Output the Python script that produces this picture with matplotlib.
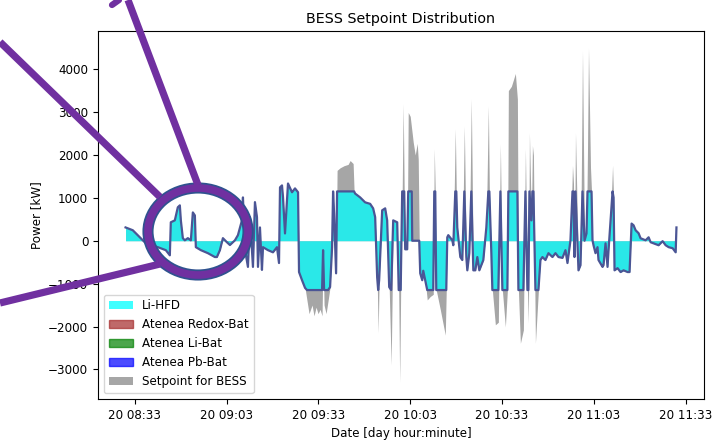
import matplotlib
matplotlib.use("Agg")
import matplotlib.pyplot as plt
import matplotlib.dates as mdates
from matplotlib.patches import Patch, Ellipse
from matplotlib.lines import Line2D
import pandas as pd
import numpy as np

# ---------------- data (minutes after 20 08:30, kW) ----------------
minutes = [0.00, 2.36, 3.99, 4.97, 6.28, 8.25, 10.54, 13.16, 14.47, 14.79,
           16.10, 17.08, 17.74, 18.07, 18.72, 19.37, 20.36, 21.34, 21.99, 22.65,
           22.97, 24.61, 26.90, 29.19, 29.85, 30.83, 31.81, 33.12, 34.10, 35.74,
           36.72, 37.37, 38.03, 38.36, 39.01, 39.99, 40.65, 41.63, 42.28, 42.94,
           43.27, 43.92, 44.57, 44.90, 46.54, 48.17, 49.48, 50.14, 50.47, 51.12,
           51.45, 52.10, 53.08, 54.39, 55.37, 56.36, 56.68, 57.66, 58.65, 59.30,
           59.96, 60.94, 61.59, 62.25, 62.90, 63.56, 64.21, 64.54, 64.87, 65.52,
           66.17, 66.83, 67.48, 67.81, 68.14, 68.79, 69.12, 70.10, 71.41, 72.72,
           73.38, 74.36, 74.68, 75.01, 76.65, 78.28, 79.92, 80.90, 81.56, 82.21,
           82.54, 82.86, 83.85, 84.83, 85.48, 86.14, 86.79, 87.45, 88.76, 89.25,
           89.57, 89.90, 90.39, 90.72, 91.05, 91.37, 92.03, 92.36, 93.01, 93.50,
           93.67, 93.99, 94.65, 95.30, 95.63, 95.96, 96.28, 96.94, 97.27, 97.92,
           98.57, 99.56, 100.54, 100.87, 101.19, 101.52, 102.83, 104.47, 104.79, 105.12,
           105.45, 106.76, 107.09, 107.74, 108.07, 108.39, 109.38, 110.03, 110.69, 111.34,
           111.67, 112.32, 112.97, 113.63, 114.28, 114.94, 115.59, 116.90, 117.88, 118.54,
           118.87, 119.52, 119.85, 120.83, 121.81, 122.47, 123.12, 124.10, 124.76, 125.08,
           126.06, 126.72, 127.37, 128.03, 128.36, 129.01, 129.99, 130.65, 131.30, 131.63,
           131.96, 132.61, 132.94, 133.27, 133.92, 134.90, 135.56, 136.21, 137.19, 138.18,
           139.48, 140.47, 141.45, 142.76, 143.74, 144.39, 145.37, 146.03, 146.36, 146.68,
           147.01, 147.99, 148.65, 149.30, 149.96, 150.61, 150.94, 151.26, 151.92, 152.25,
           152.57, 152.90, 153.55, 154.21, 154.53, 155.85, 156.17, 156.83, 157.48, 157.81,
           158.46, 159.12, 159.45, 159.77, 160.76, 161.74, 162.72, 164.03, 164.68, 165.34,
           165.99, 166.65, 167.63, 168.28, 169.92, 170.90, 171.56, 173.19, 174.17, 175.48,
           176.46, 177.45, 178.76, 179.74, 180.00]

setpoint_bess = [310, 245, 130, 60, -35, -105, -150, -220, -340, 430,
                 475, 780, 825, 475, 60, 10, 60, 10, 660, 590,
                 -150, -220, -290, -380, -380, -220, 60, -35, -100, 10,
                 130, 300, 475, 1010, -200, -610, 550, -610, 900, 550,
                 -610, 310, -680, -150, -220, -270, -150, -520, 1245, 1290,
                 1010, 170, 1335, 1130, 1220, 1130, -730, -920, -1100, -1400,
                 -1700, -1500, -1750, -1550, -1700, -1600, -1750, -220, -1500, -1700,
                 -1400, -1080, -150, 1200, 630, -760, 1640, 1700, 1750, 1780,
                 1870, 1800, 1150, 1100, 1010, 895, 860, 755, 550, -850,
                 -2150, -920, 710, 755, 475, -1080, -2900, 475, 430, -1150,
                 -3300, -1150, 1150, 3200, 1150, -200, -200, 2990, 2900, 2600,
                 2500, 2300, 2000, 2270, 1900, 0, -760, -920, -700, -920,
                 -1380, -1300, -1250, 2150, 1150, -1150, -1600, -2200, -1150, 80,
                 130, 10, -105, 2610, 1150, 310, -380, -450, 2680, -380,
                 -690, -290, 3310, -690, -690, -380, -690, -450, 310, 3150,
                 1150, -290, -1150, -1960, -1900, 2260, -1150, -2010, -1150, 3500,
                 3600, 3750, 3900, 3300, -1150, -2390, -2080, 2150, -1150, -1920,
                 2520, 475, 2220, 1990, -2390, -1150, -450, -380, -450, -290,
                 -380, -290, -380, -400, -220, -520, 10, 1760, 1330, -380,
                 2520, -690, -570, 4430, 0, 170, 2150, 4500, 1700, 1150,
                 10, -105, -290, -150, -450, -610, -570, -60, -610, -220,
                 475, 1760, 1010, -690, -640, -730, -690, -730, -730, 400,
                 360, 245, 175, 58, 10, 80, -35, -80, -105, -10,
                 -105, -150, -175, -270, 310]

li_hfd = [310, 245, 130, 60, -35, -105, -150, -220, -340, 430,
          475, 780, 825, 475, 60, 10, 60, 10, 660, 590,
          -150, -220, -290, -380, -380, -220, 60, -35, -100, 10,
          130, 300, 475, 1010, -200, -610, 550, -610, 900, 550,
          -610, 310, -680, -150, -220, -270, -150, -520, 1245, 1290,
          1010, 170, 1335, 1130, 1220, 1130, -730, -920, -1100, -1150,
          -1150, -1150, -1150, -1150, -1150, -1150, -1150, -220, -1150, -1150,
          -1150, -1080, -150, 1150, 630, -760, 1150, 1150, 1150, 1150,
          1150, 1150, 1150, 1100, 1010, 895, 860, 755, 550, -850,
          -1150, -920, 710, 755, 475, -1080, -1150, 475, 430, -1150,
          -1150, -1150, 1150, 1150, 1150, -200, -200, 1150, 1150, 1150,
          0, 0, 0, 0, 0, 0, -760, -920, -700, -920,
          -1150, -1150, -1150, 1150, 1150, -1150, -1150, -1150, -1150, 80,
          130, 10, -105, 1150, 1150, 310, -380, -450, 1150, -380,
          -690, -290, 1150, -690, -690, -380, -690, -450, 310, 1150,
          1150, -290, -1150, -1150, -1150, 1150, -1150, -1150, -1150, 1150,
          1150, 1150, 1150, 1150, -1150, -1150, -1150, 1150, -1150, -1150,
          1150, 475, 1150, 1150, -1150, -1150, -450, -380, -450, -290,
          -380, -290, -380, -400, -220, -520, 10, 1150, 1150, -380,
          1150, -690, -570, 1150, 0, 170, 1150, 1150, 1150, 1150,
          10, -105, -290, -150, -450, -610, -570, -60, -610, -220,
          475, 1150, 1010, -690, -640, -730, -690, -730, -730, 400,
          360, 245, 175, 58, 10, 80, -35, -80, -105, -10,
          -105, -150, -175, -270, 310]

series_labels = ["Li-HFD", "Atenea Redox-Bat", "Atenea Li-Bat", "Atenea Pb-Bat", "Setpoint for BESS"]
tick_minutes = [3, 33, 63, 93, 123, 153, 183]
y_ticks = [-3000, -2000, -1000, 0, 1000, 2000, 3000, 4000]
start_time = "2019-05-20 08:30:00"

# ---------------- plot ----------------
plt.rcParams["font.family"] = ["DejaVu Sans"]
plt.rcParams["font.size"] = 8.6

fig = plt.figure(figsize=(7.12, 4.42), dpi=100)
ax = fig.add_axes([98 / 712, 1 - 399 / 442, (704 - 98) / 712, (399 - 31) / 442])

base = pd.Timestamp(start_time)
t = base + pd.to_timedelta(minutes, unit="min")
t = t.to_pydatetime()

sp = np.array(setpoint_bess, dtype=float)
li = np.array(li_hfd, dtype=float)

ax.fill_between(t, 0, sp, color="grey", alpha=0.7, linewidth=0, zorder=1)
ax.fill_between(t, 0, li, color="cyan", alpha=0.75, linewidth=0, zorder=2)
ax.plot(t, li, color="#4b5595", linewidth=1.6, zorder=3)

ax.set_yticks(y_ticks)
ticks = [base + pd.Timedelta(minutes=m) for m in tick_minutes]
ax.set_xticks([x.to_pydatetime() for x in ticks])
ax.xaxis.set_major_formatter(mdates.DateFormatter("%d %H:%M"))

ax.set_title("BESS Setpoint Distribution", fontsize=10.3)
ax.set_xlabel("Date [day hour:minute]")
ax.set_ylabel("Power [kW]")

handles = [
    Patch(facecolor="cyan", alpha=0.75, label=series_labels[0]),
    Patch(facecolor="brown", edgecolor="brown", alpha=0.7, label=series_labels[1]),
    Patch(facecolor="green", edgecolor="green", alpha=0.7, label=series_labels[2]),
    Patch(facecolor="blue", edgecolor="blue", alpha=0.7, label=series_labels[3]),
    Patch(facecolor="grey", alpha=0.7, label=series_labels[4]),
]
ax.legend(handles=handles, loc="lower left")

# ---------------- purple annotation overlay (pixel coordinates) ----------------
ov = fig.add_axes([0, 0, 1, 1], zorder=10)
ov.set_xlim(0, 712)
ov.set_ylim(442, 0)
ov.axis("off")
purple = "#7030a0"
outline = "#2f528f"
ov.plot([0, 160], [42, 197], color=purple, linewidth=5.2, solid_capstyle="butt")
ov.plot([128, 198], [0, 185], color=purple, linewidth=5.2, solid_capstyle="butt")
ov.plot([112, 119], [5, 0], color=purple, linewidth=4.5, solid_capstyle="round")
ov.plot([0, 160], [303, 264], color=purple, linewidth=5.2, solid_capstyle="butt")
ov.add_patch(Ellipse((198, 231.5), 100, 87, fill=False, edgecolor=outline, linewidth=8.0))
ov.add_patch(Ellipse((198, 231.5), 100, 87, fill=False, edgecolor=purple, linewidth=5.5))

fig.savefig("out.png", dpi=100)
